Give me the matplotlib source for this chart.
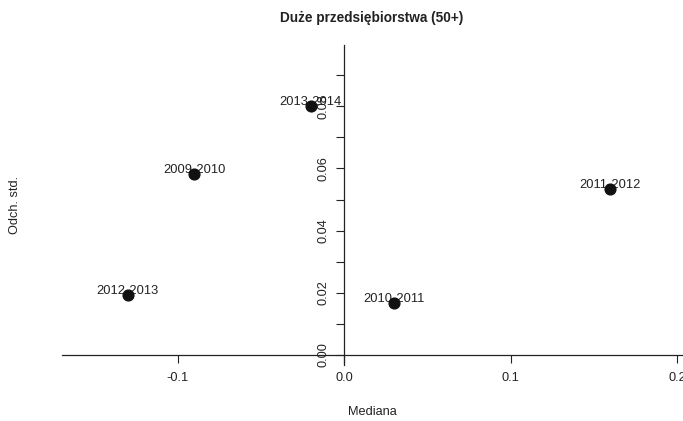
import matplotlib
matplotlib.use("Agg")
import matplotlib.pyplot as plt
import numpy as np

plt.rcParams['font.family'] = ['Liberation Sans', 'DejaVu Sans']

labels = ["2009-2010", "2010-2011", "2011-2012", "2012-2013", "2013-2014"]
mediana = [-0.090, 0.030, 0.160, -0.130, -0.020]
odch_std = [0.0583, 0.0168, 0.0535, 0.0194, 0.0801]

xticks = [-0.1, 0.0, 0.1, 0.2]
xticklabels = ["-0.1", "0.0", "0.1", "0.2"]
yticks = [0.00, 0.01, 0.02, 0.03, 0.04, 0.05, 0.06, 0.07, 0.08, 0.09]
yticklabels = ["0.00", "", "0.02", "", "0.04", "", "0.06", "", "0.08", ""]

W, H = 683, 421
fig = plt.figure(figsize=(W / 100, H / 100), dpi=100)
L, R, T, B = 62, 683, 45, 365
ax = fig.add_axes([L / W, (H - B) / H, (R - L) / W, (B - T) / H])

ax.set_xlim(-0.1694, 0.2036)
ax.set_ylim(-0.0032, 0.0997)

col = '#222222'
for s in ['top', 'right']:
    ax.spines[s].set_visible(False)
ax.spines['left'].set_position(('data', 0))
ax.spines['bottom'].set_position(('data', 0))
for s in ['left', 'bottom']:
    ax.spines[s].set_color(col)
    ax.spines[s].set_linewidth(0.9)

ax.set_xticks(xticks)
ax.set_xticklabels(xticklabels)
ax.set_yticks(yticks)
ax.set_yticklabels(yticklabels, rotation=90, va='center')
ax.tick_params(axis='both', direction='out', length=5.5, width=0.8, color=col,
               labelsize=9.2, labelcolor=col)
ax.tick_params(axis='x', pad=7)
ax.tick_params(axis='y', pad=5)

for lab, x, y in zip(labels, mediana, odch_std):
    ax.annotate(lab, (x, y), xytext=(0, 3), textcoords='offset points',
                ha='center', va='center', fontsize=9.3, color=col, zorder=3)
ax.scatter(mediana, odch_std, s=60, color='#111111', zorder=4, clip_on=False)

fig.text(372 / W, 1 - 18 / H, "Duże przedsiębiorstwa (50+)", ha='center', va='center',
         fontsize=9.8, fontweight='bold', color=col)
fig.text(372 / W, 1 - 412 / H, "Mediana", ha='center', va='center', fontsize=9.2, color=col)
fig.text(15 / W, 1 - 205 / H, "Odch. std.", ha='center', va='center', rotation=90,
         fontsize=9.2, color=col)

fig.savefig("out.png", dpi=100)
